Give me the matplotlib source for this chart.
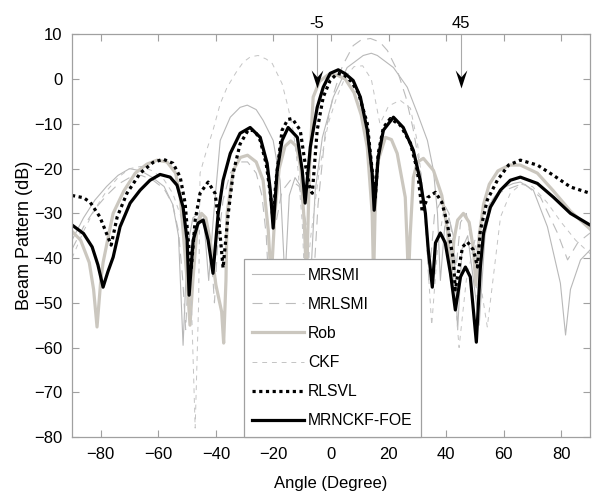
import matplotlib
matplotlib.use("Agg")
import matplotlib.pyplot as plt
from matplotlib.path import Path

plt.rcParams['font.family'] = ['Liberation Sans', 'DejaVu Sans']

# MRSMI (thin solid)
ang_mrsmi = [-90, -86, -82, -78, -74, -70, -66, -62, -58, -55, -53, -51.4, -50, -48, -46, -44, -42.5,
             -41, -38.5, -35, -31.6, -29.1, -26, -23.6, -20.1, -17.7, -16, -14.5, -12.5, -10.5, -8.5,
             -7.5, -5.5, -3, 0.8, 5.6, 11.2, 14, 16.1, 21.7, 26.5, 30, 33.5, 35.6, 37, 38, 39.5, 41,
             42.5, 44, 45.5, 47.5, 49.5, 51.5, 53.5, 56, 59, 63.4, 65.8, 70.3, 75.2, 79.7, 81.5, 83.2,
             86.7, 90]
mrsmi = [-36, -31, -27, -24, -21.5, -20, -20.5, -22, -24, -28, -35, -59.5, -38, -31, -30, -33, -45,
         -32, -13.7, -8.5, -6.3, -5.8, -6.8, -9.2, -13.7, -22.6, -45, -26, -22, -24, -35,
         -50, -25, -13, -4, 2.6, 5.3, 5.8, 5.3, 2.6, -1.8, -7.6, -13.7, -20.4, -30, -45, -33, -31,
         -35, -56, -38, -35, -45, -55, -35, -27, -24.5, -23.3, -23, -24.8, -33, -45.6, -57.2, -47,
         -40.4, -38.2]

# MRLSMI (long dash)
ang_mrlsmi = [-90, -86, -82, -78, -74, -70, -66, -62, -58, -55, -53, -51.5, -50.5, -49.5, -47.5, -45.5,
              -43.5, -41.5, -40.5, -39.5, -37.5, -35, -32, -29, -26, -24, -22.5, -21.5, -20, -17, -14,
              -11, -8.5, -6.5, -4.5, -2, 1, 4, 7.7, 10.5, 13.7, 17, 19.6, 23, 26, 28.5, 31, 33, 34,
              36, 38.5, 41, 43.5, 45, 47, 49, 51, 53, 55, 58, 63.4, 67, 72.8, 78.7, 82.2, 85.7, 90]
mrlsmi = [-38, -33, -29, -26, -23.5, -22, -21.5, -22.5, -24.5, -28, -34, -45, -56, -42, -33, -30,
          -32, -40, -50, -38, -27, -21, -18.5, -18.5, -21, -26, -35, -48, -35, -25, -22.5,
          -24, -33, -50, -28, -12, -3, 3, 7.5, 8.8, 9.1, 8.3, 6.4, 2, -4, -11, -20, -32, -45,
          -30, -27, -30, -42, -32, -30, -37, -50, -33, -28, -25.5, -24.1, -23.3, -26.4, -34.4, -40.4,
          -36.6, -34.4]

# Rob (thick light grey)
ang_rob = [-90, -87, -84, -82.5, -81.3, -80, -79.2, -77, -75.7, -72, -68, -64, -60.4, -57, -54, -52.4,
           -51.4, -50, -49, -48, -46.5, -45, -43.5, -42, -40, -38, -37.3, -36.5, -36.1, -34, -31.5,
           -29, -26, -23.6, -21.8, -20.8, -19.5, -18, -16, -14, -12, -10.5, -9.3, -8.5, -7.5, -6.2,
           -4, -1, 2.2, 5, 8, 10.5, 12.6, 14.3, 14.8, 15.3, 16.1, 18.9, 21, 23, 25.8, 26.5, 26.9,
           27.5, 28.6, 30, 32.1, 35.6, 38.5, 40.5, 41.7, 42.7, 44, 46, 48, 49.5, 50.3, 51.5, 53, 55,
           58, 62, 65.8, 71.7, 77.3, 83.2, 90]
rob = [-34, -36, -41, -47, -55.4, -45, -41, -34, -30, -25, -21, -19, -18.1, -18.5, -21, -26.4,
       -33.8, -45, -55, -45, -33, -30, -31, -36, -46, -52, -59, -45, -30, -20.4, -17.5,
       -17, -18.5, -22.6, -33.8, -45, -30, -20, -15, -13.8, -15, -20, -32, -45, -20, -4,
       -0.5, 1, 0.9, 0, -3, -8, -15.2, -30, -45, -30, -18.8, -13, -13.5, -16.6, -26.4, -37.5, -45,
       -35, -22, -18.5, -17.7, -20.4, -26, -34, -44, -36, -31.5, -30, -32, -38, -46, -35, -28, -23.5,
       -20.5, -19.2, -19.2, -21, -25, -29.5, -33.5]

# CKF (short dash)
ang_ckf = [-90, -86, -82, -78, -74, -70, -66, -62, -58, -55, -52, -50, -48.5, -47.2, -46, -45.5, -43.5,
           -41, -38.5, -36.1, -33, -30.5, -28, -25.3, -22.5, -20.4, -17, -14.9, -13, -11.5, -10, -9,
           -7, -4, -1, 2, 5, 8, 11, 14, 17, 20, 24, 27.6, 30, 32, 33.5, 35, 37, 39, 41, 43, 44.5,
           47, 50, 52.5, 54.3, 56.4, 58.9, 62.3, 66, 70, 75, 80, 85, 90]
ckf = [-40, -34, -29, -25, -22, -20, -19.5, -20.5, -22.5, -25.5, -31, -38, -50, -78, -50, -21, -16.5,
       -11.4, -5.5, -1.8, 1.5, 3.8, 5, 5.3, 4.5, 3.5, -1, -6.3, -12, -20, -32, -48,
       -35, -20, -10, -4, 0.5, 2.8, 3, 0, -10, -6, -4.7, -6.5, -14, -25, -40, -55, -38, -30, -33, -48, -60,
       -45, -36, -48, -55.4, -44.2, -30.8, -25.5, -23.5, -24, -27.5, -32, -36, -39]

# RLSVL (dotted)
ang_rlsvl = [-90, -86, -83.7, -80.3, -77.5, -76.4, -74.3, -70.9, -66.3, -61.8, -58.3, -54.9, -52.4, -50.7,
             -49.7, -48.6, -47.2, -45.5, -42.7, -40.3, -38.9, -37.5, -35.7, -34, -31.6, -28.8, -26.5,
             -24.6, -22.5, -21, -20.2, -19, -17, -15, -13.5, -10.7, -9, -7.2, -6.5, -4.8, -2.7, -0.3,
             2.2, 4.5, 7, 9.5, 12.6, 14.3, 15.4, 16.4, 18.2, 20.6, 24.1, 27.6, 30, 31.7, 33.5, 36.3,
             38.5, 40.4, 42.5, 43.2, 45.7, 47.4, 49.5, 50.9, 51.9, 54.3, 57.8, 61.7, 65.8, 71.7, 77.3,
             83.2, 90]
rlsvl = [-26, -26.5, -27.5, -30.8, -35.3, -37.1, -30.8, -25.5, -21, -18.6, -17.9, -18.8, -21.9, -27.7,
         -35.3, -42.7, -31.5, -25.5, -23, -25.5, -32.2, -42.2, -30, -21, -14.5, -11.4, -11.5,
         -13.7, -19, -26, -31, -22, -11.4, -9, -8.8, -11.4, -18.8, -24.8, -25.5, -11.4, -4, -0.3,
         1.3, 1.0, -0.5, -3, -9.9, -20.4, -26.4, -16.6, -10.8, -8.8, -10.3, -14.3, -20.4, -29.7, -26.5, -25.3,
         -27.5, -32.2, -40.4, -47.1, -37.5, -36.4, -38.2, -42, -33.8, -27, -22.6, -19.2, -18.1, -19.2, -21.5,
         -24.1, -25.5]

# MRNCKF-FOE (thick solid black)
ang_foe = [-90, -86, -83, -81, -79.2, -77.5, -75.7, -73.3, -69.8, -66.3, -62.9, -59.4, -55.9, -53.5,
           -51.4, -50, -49.3, -47.9, -46.2, -44.4, -42.7, -41, -39.2, -37.5, -35, -31.6, -28.1, -24.6,
           -22.2, -21.1, -20.1, -18.7, -17, -14.9, -11.7, -10, -9, -7.2, -4.8, -2.7, -0.3, 2.5, 5,
           7.7, 10.2, 12.6, 14.3, 15.0, 16.4, 18.2, 21.7, 25.1, 28.6, 31, 32.8, 33.8, 35.2, 36.3, 38,
           39.7, 41.5, 43.2, 45, 46.7, 48.4, 50.5, 51.9, 53, 55.4, 58.9, 62.3, 65.8, 71.7, 77.3, 83.2, 90]
foe = [-32.6, -34.5, -37.5, -41.5, -46.5, -43, -39.8, -33, -27.7, -24.8, -22.6, -21.3, -21.9, -23.7,
       -28.6, -36, -48.3, -36, -32.2, -31.5, -36, -43.4, -30, -22.6, -16.6, -12.1, -10.8, -13,
       -18.8, -24.8, -33.3, -20.4, -13.7, -10.8, -13, -20.4, -27.7, -15.2, -6.3, -1.8, 1.3, 2.1, 1.2,
       -0.3, -4, -11.4, -21, -29.3, -17.5, -11.4, -8.5, -10.8, -15.9, -22.6, -30, -38.2, -46.5, -36.6, -34.4,
       -36.6, -43.4, -51.6, -44.2, -42, -44.2, -58.8, -42, -34.4, -28.6, -24.8, -22.6, -21.9, -23.3, -26.4,
       -30, -32.6]

arrow_angles = [-5, 45]
arrow_tip = -2

fig = plt.figure(figsize=(5.94, 4.91), dpi=100)
ax = fig.add_axes([0.1212, 0.11, 0.8721, 0.8198])

ax.plot(ang_mrsmi, mrsmi, color='#b8b8b8', lw=0.8, label='MRSMI')
ax.plot(ang_mrlsmi, mrlsmi, color='#bcbcbc', lw=0.8, dashes=(9, 6), label='MRLSMI')
ax.plot(ang_rob, rob, color='#cbc7bf', lw=2.3, label='Rob')
ax.plot(ang_ckf, ckf, color='#c4c4c4', lw=0.7, dashes=(5, 5), label='CKF')
ax.plot(ang_rlsvl, rlsvl, color='black', lw=2.3, linestyle=(0, (1, 1.1)), label='RLSVL')
ax.plot(ang_foe, foe, color='black', lw=2.3, label='MRNCKF-FOE')

# notched arrow head (tip at origin, pointing down)
head = Path([(0, 0), (-0.55, 1.7), (0, 1.05), (0.55, 1.7), (0, 0)],
            [Path.MOVETO, Path.LINETO, Path.LINETO, Path.LINETO, Path.CLOSEPOLY])
for a in arrow_angles:
    ax.plot([a, a], [10, arrow_tip + 2], color='#aaaaaa', lw=0.8)
    ax.plot([a], [arrow_tip], marker=head, markersize=26, color='black', mew=0)
    ax.text(a, 10.8, f'{a}', ha='center', va='bottom', fontsize=12)

ax.set_xlim(-90, 90)
ax.set_ylim(-80, 10)
ax.set_xticks([-80, -60, -40, -20, 0, 20, 40, 60, 80])
ax.set_yticks(range(-80, 11, 10))
ax.tick_params(direction='in', top=True, right=True, color='#a0a0a0', length=5,
               labelsize=12, pad=7)
for s in ax.spines.values():
    s.set_color('#a0a0a0')
    s.set_linewidth(0.9)

ax.set_xlabel('Angle (Degree)', fontsize=12, labelpad=10)
ax.set_ylabel('Beam Pattern (dB)', fontsize=13, labelpad=1)

leg = ax.legend(loc='lower center', bbox_to_anchor=(0.503, 0.0), fontsize=11.3,
                handlelength=3.3, handletextpad=0.25, labelspacing=0.9, borderpad=0.55,
                fancybox=False, framealpha=1, edgecolor='#a0a0a0', borderaxespad=0)
leg.get_frame().set_linewidth(0.9)

fig.savefig('out.png', dpi=100)
